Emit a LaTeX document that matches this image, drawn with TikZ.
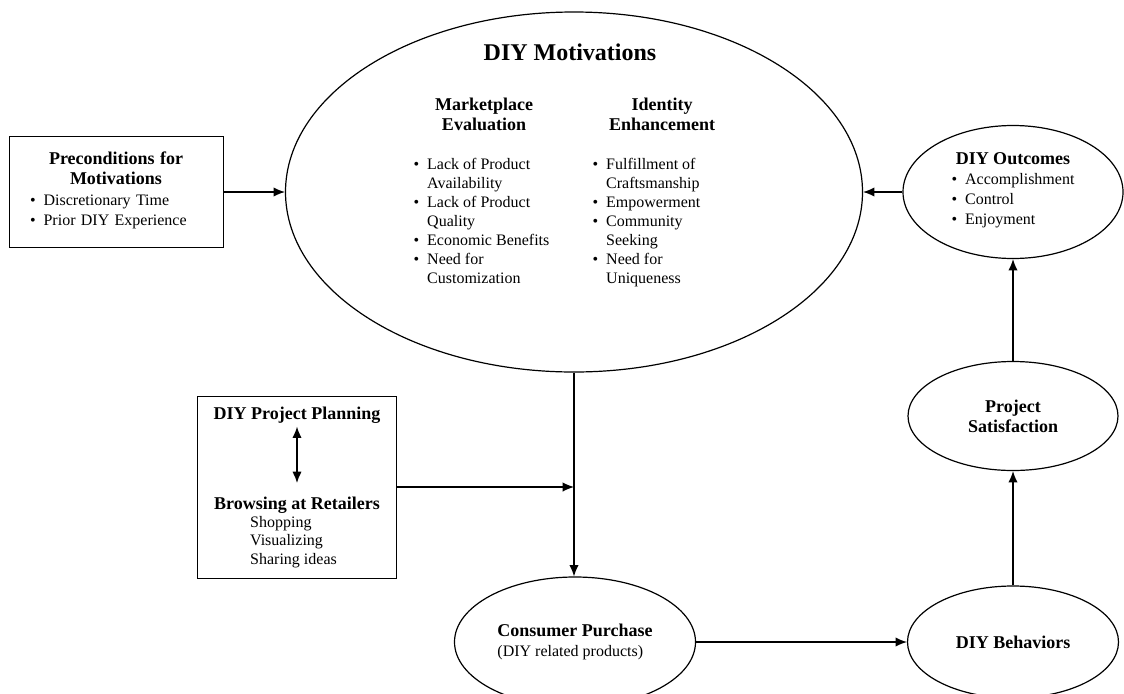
\documentclass[tikz,border=0pt]{standalone}
\usepackage{fontspec}
\setmainfont{Liberation Serif}
\usetikzlibrary{shapes.geometric,arrows.meta}
\newcommand{\bdfont}{\fontsize{12}{14.25}\selectfont}
\newcommand{\hdfont}{\fontsize{13.5}{15}\selectfont\bfseries}
\newcommand{\ttlfont}{\fontsize{18}{20}\selectfont\bfseries}
\newcommand{\blist}[1]{\begin{tabular}[t]{@{}l@{\hspace{6pt}}l@{}}#1\end{tabular}}

\begin{document}
\begin{tikzpicture}[x=0.75pt, y=-0.75pt, line width=0.9pt, font=\bdfont,
    >={Latex[length=8.5pt,width=7pt]},
    oval/.style  = {draw, ellipse, inner sep=0pt, align=center},
    panel/.style = {draw, line width=0.6pt},
    txt/.style   = {inner sep=0pt}]
  \useasboundingbox (0,0) rectangle (1124,693);

  \node[oval, minimum width=432.75pt, minimum height=270pt] (motiv) at (574,192) {};
  \node[txt, font=\ttlfont] (mtitle) at (570,52) {DIY Motivations};
  \node[txt, font=\hdfont, align=center] (mkt) at (484,114) {Marketplace\\Evaluation};
  \node[txt, font=\hdfont, align=center] (idn) at (662,114) {Identity\\Enhancement};
  \node[txt, anchor=north west] (mktlist) at (413,155.5)
    {\blist{\textbullet & Lack of Product\\ & Availability\\ \textbullet & Lack of Product\\ & Quality\\
            \textbullet & Economic Benefits\\ \textbullet & Need for\\ & Customization}};
  \node[txt, anchor=north west] (idnlist) at (592,155.5)
    {\blist{\textbullet & Fulfillment of\\ & Craftsmanship\\ \textbullet & Empowerment\\ \textbullet & Community\\
            & Seeking\\ \textbullet & Need for\\ & Uniqueness}};

  \node[panel, text width=129pt, inner xsep=15.75pt, inner ysep=0pt, minimum height=83.25pt,
        font={\fontsize{12}{15.5}\selectfont}] (precond) at (116,192)
    {{\centering\hdfont Preconditions for\\ Motivations\par}
     \noindent\blist{\textbullet & Discretionary Time\\ \textbullet & Prior DIY Experience}};

  \node[oval, minimum width=165pt, minimum height=99.75pt, font={\fontsize{12}{15}\selectfont}] (outc) at (1013,192)
    {{\hdfont DIY Outcomes}\\ \blist{\textbullet & Accomplishment\\ \textbullet & Control\\ \textbullet & Enjoyment}};
  \node[oval, minimum width=157.5pt, minimum height=81.75pt, font=\hdfont] (satis) at (1013,416) {Project\\Satisfaction};
  \node[oval, minimum width=158.25pt, minimum height=84pt, font=\hdfont] (behav) at (1013,642) {DIY Behaviors};
  \node[oval, minimum width=180.75pt, minimum height=97.5pt, align=left, font={\fontsize{12}{15}\selectfont}] (cons) at (575,642)
    {{\hdfont Consumer Purchase}\\(DIY related products)};

  \node[panel, minimum width=149.25pt, minimum height=136.5pt] (planbox) at (296.5,487) {};
  \node[txt, font=\hdfont, anchor=base] (pplan) at (297,419) {DIY Project Planning};
  \node[txt, anchor=north, align=left, font={\fontsize{12}{13.8}\selectfont}] (brw) at (297,496)
    {{\hdfont Browsing at Retailers}\\ \hspace*{27pt}Shopping\\ \hspace*{27pt}Visualizing\\ \hspace*{27pt}Sharing ideas};

  \coordinate (join) at (motiv.south |- planbox.east);
  \draw[->] (precond) -- (motiv);
  \draw[->] (outc) -- (motiv);
  \draw[->] (motiv.south) -- (motiv.south |- cons.north);
  \draw[->] (planbox) -- (join);
  \draw[->] (cons) -- (behav);
  \draw[->] (behav) -- (satis);
  \draw[->] (satis) -- (outc);
  \draw[<->, line width=1.1pt, shorten <=2.25pt, shorten >=9.75pt] (pplan) -- (brw);
\end{tikzpicture}
\end{document}
